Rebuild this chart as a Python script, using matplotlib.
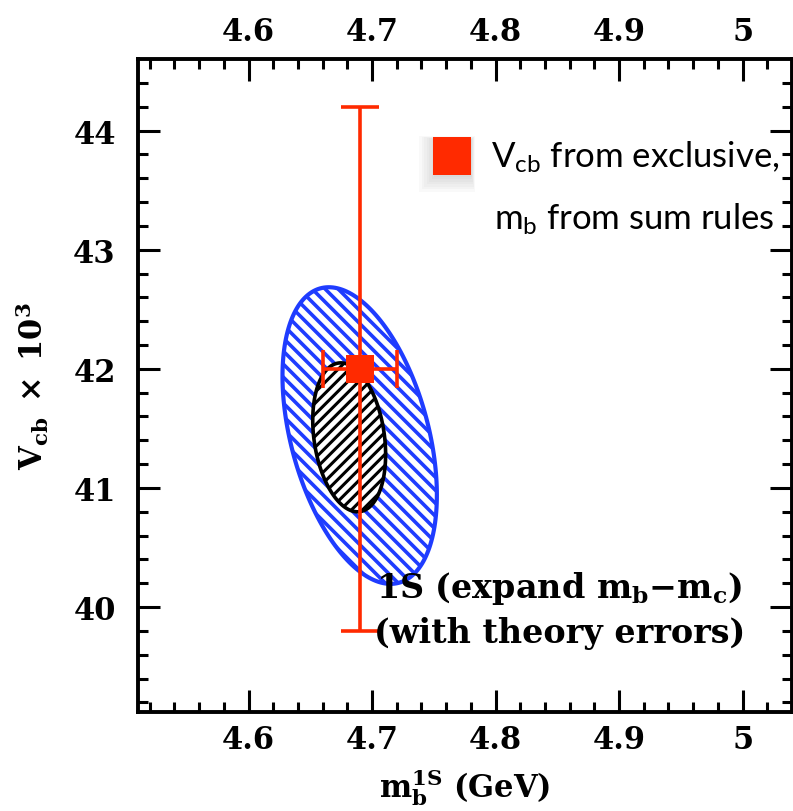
import numpy as np
import matplotlib
matplotlib.use("Agg")
import matplotlib.pyplot as plt
from matplotlib.patches import Polygon
from matplotlib.collections import LineCollection
from matplotlib.transforms import IdentityTransform

# Data
x_ticks = [4.6, 4.7, 4.8, 4.9, 5.0]
x_tick_labels = ["4.6", "4.7", "4.8", "4.9", "5"]
y_ticks = [40, 41, 42, 43, 44]
y_tick_labels = ["40", "41", "42", "43", "44"]

# fit ellipses: center x, center y, sigma x, sigma y, correlation
outer_ellipse = [4.690, 41.44, 0.0625, 1.245, -0.40]
inner_ellipse = [4.6815, 41.425, 0.0295, 0.625, -0.23]

# exclusive Vcb / sum-rule mb point
point_mb = [4.69]
point_vcb = [42.0]
point_mb_err = [0.03]
point_vcb_err = [2.2]

red = "#ff2a00"
blue = "#1f3cff"

plt.rcParams["mathtext.fontset"] = "custom"
plt.rcParams["mathtext.rm"] = "Lato"
plt.rcParams["mathtext.it"] = "Lato:italic"
plt.rcParams["mathtext.bf"] = "Lato:bold"

fig = plt.figure(figsize=(7.93, 8.12), dpi=100)
ax = fig.add_axes([0.174, 0.122, 0.8247, 0.804])
ax.set_xlim(4.5105, 5.038)
ax.set_ylim(39.12, 44.6)


def ellipse_xy(cx, cy, sx, sy, rho, n=200):
    t = np.linspace(0, 2 * np.pi, n)
    phi = np.arccos(rho)
    return np.column_stack([cx + sx * np.cos(t), cy + sy * np.cos(t + phi)])


def hatch_lines(patch, xy, spacing, slope, color, lw, z):
    # hatch drawn in pixel space so the spacing is fixed
    pix = ax.transData.transform(xy)
    x0, y0 = pix.min(0) - 20
    x1, y1 = pix.max(0) + 20
    w = x1 - x0
    segs = []
    cs = np.arange(y0 - w, y1 + w, spacing)
    for c in cs:
        if slope > 0:
            segs.append([(x0, c), (x1, c + w)])
        else:
            segs.append([(x0, c + w), (x1, c)])
    lc = LineCollection(segs, colors=color, linewidths=lw,
                        transform=IdentityTransform(), zorder=z)
    ax.add_collection(lc)
    lc.set_clip_path(patch)


# outer (blue) ellipse
xy_out = ellipse_xy(*outer_ellipse)
p_out = Polygon(xy_out, closed=True, facecolor="white", edgecolor="none", zorder=2)
ax.add_patch(p_out)
hatch_lines(p_out, xy_out, 13, -1, blue, 2.6, 2.1)
ax.add_patch(Polygon(xy_out, closed=True, facecolor="none", edgecolor=blue,
                     linewidth=3.0, zorder=2.2))

# inner (black) ellipse
xy_in = ellipse_xy(*inner_ellipse)
p_in = Polygon(xy_in, closed=True, facecolor="white", edgecolor="none", zorder=3)
ax.add_patch(p_in)
hatch_lines(p_in, xy_in, 11, 1, "black", 2.2, 3.1)
ax.add_patch(Polygon(xy_in, closed=True, facecolor="none", edgecolor="black",
                     linewidth=2.6, zorder=3.2))

# data point with error bars
ax.errorbar(point_mb, point_vcb, xerr=point_mb_err, yerr=point_vcb_err,
            fmt="none", ecolor=red, elinewidth=2.6,
            capsize=14, capthick=2.6, zorder=5)
ax.plot(point_mb, point_vcb, "s", color=red, ms=19.5, mew=0, zorder=5.5)

# legend marker with soft shadow
for i in range(8):
    ax.plot([0.472 + 0.0015 * i], [0.840 + 0.0015 * i], "s", color="gray",
            ms=40 - 2.2 * i, mew=0, alpha=0.045,
            transform=ax.transAxes, zorder=6)
ax.plot([0.48], [0.851], "s", color=red, ms=27, mew=0,
        transform=ax.transAxes, zorder=7)

ax.text(0.981, 0.836, r"$\mathrm{V_{cb}}$ from exclusive,", transform=ax.transAxes,
        ha="right", va="baseline", fontsize=25, family="Lato", zorder=7)
ax.text(0.973, 0.740, r"$\mathrm{m_b}$ from sum rules", transform=ax.transAxes,
        ha="right", va="baseline", fontsize=25, family="Lato", zorder=7)

serif = dict(family="DejaVu Serif", weight="bold", math_fontfamily="dejavuserif")
ax.text(0.644, 0.176, r"1S (expand $\mathbf{m_b{-}m_c}$)", transform=ax.transAxes,
        ha="center", va="baseline", fontsize=24, zorder=7, **serif)
ax.text(0.644, 0.107, "(with theory errors)", transform=ax.transAxes,
        ha="center", va="baseline", fontsize=24, zorder=7, **serif)

ax.set_xlabel(r"$\mathbf{m_b^{1S}}$ (GeV)", fontsize=22, labelpad=8, **serif)
ax.set_ylabel(r"$\mathbf{V_{cb}\ \times\ 10^3}$", fontsize=22, labelpad=16, **serif)

# axes styling
ax.set_xticks(x_ticks)
ax.set_xticklabels(x_tick_labels)
ax.set_yticks(y_ticks)
ax.set_yticklabels(y_tick_labels)
ax.set_xticks(np.arange(4.52, 5.04, 0.02), minor=True)
ax.set_yticks(np.arange(39.2, 44.6, 0.2), minor=True)
ax.tick_params(which="both", direction="in", top=True, right=True,
               labeltop=True, width=2.2, labelsize=22)
ax.tick_params(which="major", length=16)
ax.tick_params(which="minor", length=7.5)
ax.tick_params(axis="x", which="major", pad=9)
ax.tick_params(axis="y", which="major", pad=16)
for tick in ax.xaxis.get_major_ticks() + ax.yaxis.get_major_ticks():
    for lab in (tick.label1, tick.label2):
        lab.set_fontfamily("DejaVu Serif")
        lab.set_fontweight("bold")
for s in ax.spines.values():
    s.set_linewidth(2.8)

fig.savefig("out.png", dpi=100)
